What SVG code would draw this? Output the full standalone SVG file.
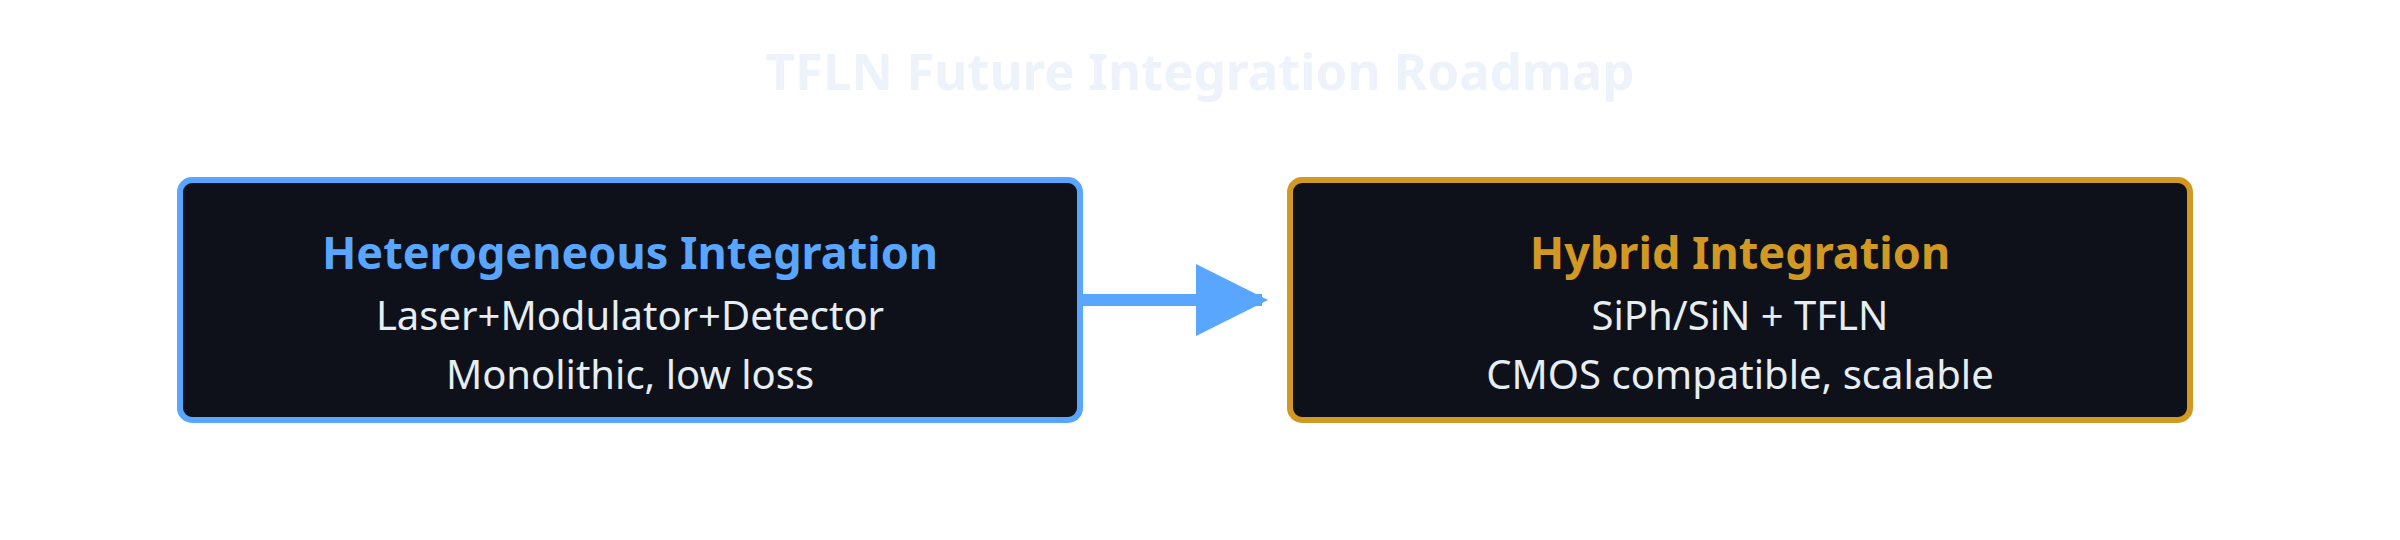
<svg xmlns="http://www.w3.org/2000/svg" width="2400" height="540" viewBox="0 0 2400 540">
<style>
.title{font-family:"Noto Sans","Open Sans",sans-serif;font-weight:700;font-size:51px;fill:#eef3fb;text-anchor:middle}
.box{fill:#0e1119;stroke-width:6}
.head{font-family:"Noto Sans","Open Sans",sans-serif;font-weight:700;font-size:45px;text-anchor:middle}
.body{font-family:"Noto Sans","Open Sans",sans-serif;font-size:40px;fill:#e6edf3;text-anchor:middle}
</style>
<defs>
<marker id="arr" viewBox="0 0 12 12" refX="11" refY="6" markerWidth="6" markerHeight="6" markerUnits="strokeWidth" orient="auto">
<path d="M0,0 L12,6 L0,12 Z" fill="#58a6ff"/>
</marker>
</defs>
<rect width="2400" height="540" fill="#ffffff"/>
<text class="title" x="1200" y="90">TFLN Future Integration Roadmap</text>
<g id="connectors">
<line x1="1083" y1="300" x2="1262" y2="300" stroke="#58a6ff" stroke-width="12" marker-end="url(#arr)"/>
</g>
<g id="node-heterogeneous">
<rect class="box" x="180" y="180" width="900" height="240" rx="12" stroke="#58a6ff"/>
<text class="head" x="630" y="269" fill="#58a6ff">Heterogeneous Integration</text>
<text class="body" x="630" y="330">Laser+Modulator+Detector</text>
<text class="body" x="630" y="389">Monolithic, low loss</text>
</g>
<g id="node-hybrid">
<rect class="box" x="1290" y="180" width="900" height="240" rx="12" stroke="#d29922"/>
<text class="head" x="1740" y="269" fill="#d29922">Hybrid Integration</text>
<text class="body" x="1740" y="330">SiPh/SiN + TFLN</text>
<text class="body" x="1740" y="389">CMOS compatible, scalable</text>
</g>
</svg>
